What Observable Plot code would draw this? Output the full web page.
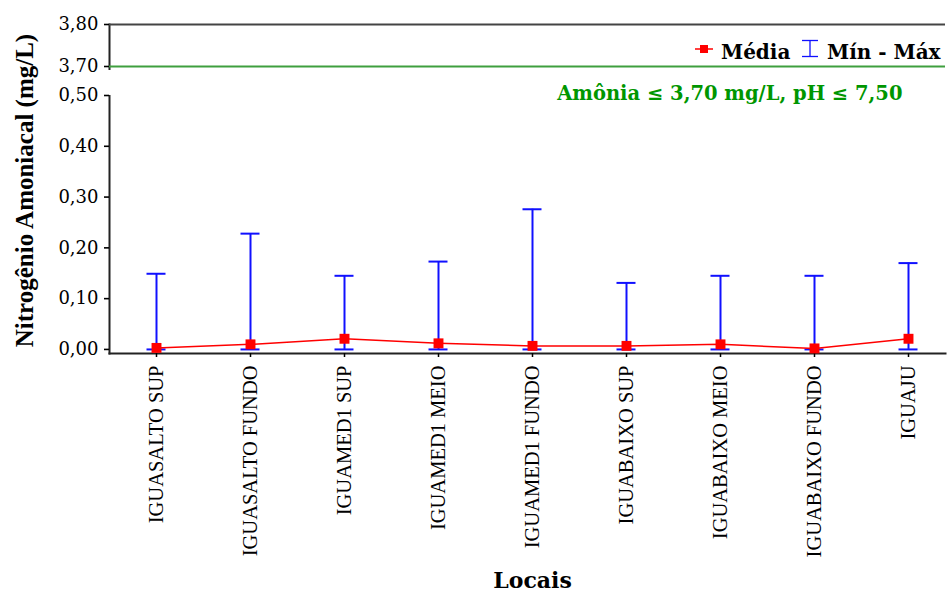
<!DOCTYPE html>
<html>
<head>
<meta charset="utf-8">
<script src="https://cdn.jsdelivr.net/npm/d3@7"></script>
<script src="https://cdn.jsdelivr.net/npm/@observablehq/plot@0.6"></script>
<style>
  html, body { margin: 0; padding: 0; background: #fff; }
  #wrap { position: relative; width: 948px; height: 592px; overflow: hidden; }
  .leg { position: absolute; font-family: "DejaVu Serif", serif; font-weight: bold; font-size: 20px; line-height: 24px; color: #000; white-space: nowrap; }
</style>
</head>
<body>
<div id="wrap"></div>
<script>
// ---- data ----
const locais = ["IGUASALTO SUP", "IGUASALTO FUNDO", "IGUAMED1 SUP", "IGUAMED1 MEIO", "IGUAMED1 FUNDO", "IGUABAIXO SUP", "IGUABAIXO MEIO", "IGUABAIXO FUNDO", "IGUAJU"];
const media  = [0.003, 0.010, 0.021, 0.012, 0.007, 0.007, 0.010, 0.002, 0.021];
const minimo = [0.000, 0.000, 0.000, 0.000, 0.000, 0.000, 0.000, 0.000, 0.000];
const maximo = [0.149, 0.228, 0.145, 0.173, 0.276, 0.131, 0.145, 0.145, 0.170];
const yTicks = [0, 0.1, 0.2, 0.3, 0.4, 0.5, 3.7, 3.8];
const limiteAmonia = 3.7;
const yLabel = "Nitrogênio Amoniacal (mg/L)";
const xLabel = "Locais";
const anotacao = "Amônia ≤ 3,70 mg/L, pH ≤ 7,50";
const legendaMedia = "Média";
const legendaMinMax = "Mín - Máx";

const rows = locais.map((l, i) => ({local: l, media: media[i], min: minimo[i], max: maximo[i]}));

const BLUE = "#1010ff", RED = "#ff0000", GREEN_LINE = "#3f9f3f", GREEN_TXT = "#009600";
const serif = "Liberation Serif, Times New Roman, serif";
const dserif = "DejaVu Serif, serif";

const chart = Plot.plot({
  width: 948,
  height: 592,
  marginLeft: 109,
  marginRight: 3,
  marginTop: 24,
  marginBottom: 239,
  style: {background: "#fff", color: "#000", fontFamily: dserif},
  x: {type: "point", domain: locais, range: [155, 909], padding: 0},
  y: {type: "linear", domain: [-0.008, 0.5, 3.7, 3.8], range: [353, 95, 66, 24]},
  marks: [
    Plot.frame({anchor: "left", stroke: "#222", strokeWidth: 2}),
    Plot.frame({anchor: "bottom", stroke: "#222", strokeWidth: 2}),
    Plot.ruleY([3.8], {stroke: "#444", strokeWidth: 2}),
    // axis break gap
    Plot.rect([0], {y1: 0.502, y2: 3.26, fill: "#fff", insetLeft: -4}),
    Plot.ruleY([limiteAmonia], {stroke: GREEN_LINE, strokeWidth: 2}),
    Plot.axisY({ticks: yTicks, tickFormat: d => d.toFixed(2).replace(".", ","), tickSize: 5, tickPadding: 6,
                fontSize: 18, fontFamily: dserif, strokeWidth: 1.6, label: null}),
    Plot.axisX({tickRotate: -90, tickSize: 4, tickPadding: 8, fontSize: 20.5, fontFamily: serif, strokeWidth: 1.5, label: null}),
    Plot.text([yLabel], {frameAnchor: "left", rotate: -90, dx: -85, dy: 1.5, lineAnchor: "middle", textAnchor: "middle",
                         fontSize: 25, fontWeight: "bold", fontFamily: serif, fill: "#000"}),
    Plot.text([xLabel], {frameAnchor: "bottom", dx: 5, dy: 227, lineAnchor: "middle", textAnchor: "middle",
                         fontSize: 22, fontWeight: "bold", fontFamily: dserif, fill: "#000"}),
    Plot.text([anotacao], {frameAnchor: "top-right", textAnchor: "end", lineAnchor: "middle", dx: -43, dy: 69,
                           fontSize: 19.5, fontWeight: "bold", fontFamily: dserif, fill: GREEN_TXT}),
    // error bars
    Plot.ruleX(rows, {x: "local", y1: "min", y2: "max", stroke: BLUE, strokeWidth: 2}),
    Plot.ruleY(rows, {x1: "local", x2: "local", y: "max", stroke: BLUE, strokeWidth: 2, insetLeft: -9.5, insetRight: -9.5}),
    Plot.ruleY(rows, {x1: "local", x2: "local", y: "min", stroke: BLUE, strokeWidth: 2, insetLeft: -9.5, insetRight: -9.5}),
    // mean
    Plot.line(rows, {x: "local", y: "media", stroke: RED, strokeWidth: 1.5}),
    Plot.dot(rows, {x: "local", y: "media", symbol: "square", r: 5.6, fill: RED, stroke: "none"})
  ]
});

const wrap = document.getElementById("wrap");
wrap.appendChild(chart);

// legend
function addIcon(left, top, w, h, inner) {
  const s = document.createElementNS("http://www.w3.org/2000/svg", "svg");
  s.setAttribute("width", w); s.setAttribute("height", h);
  s.style.position = "absolute"; s.style.left = left + "px"; s.style.top = top + "px";
  s.innerHTML = inner;
  wrap.appendChild(s);
}
addIcon(694, 42, 20, 14, `<line x1="1" x2="19" y1="7" y2="7" stroke="${RED}" stroke-width="1.5"/><rect x="6" y="3" width="8" height="8" fill="${RED}"/>`);
addIcon(800, 38, 20, 22, `<g stroke="${BLUE}" stroke-width="1.3" fill="none"><line x1="2" x2="18" y1="2.5" y2="2.5"/><line x1="10" x2="10" y1="2.5" y2="18.5"/><line x1="2" x2="18" y1="18.5" y2="18.5"/></g>`);
function addText(left, top, txt) {
  const d = document.createElement("div");
  d.className = "leg"; d.style.left = left + "px"; d.style.top = top + "px";
  d.textContent = txt; wrap.appendChild(d);
}
addText(721, 40, legendaMedia);
addText(827, 40, legendaMinMax);
</script>
</body>
</html>
